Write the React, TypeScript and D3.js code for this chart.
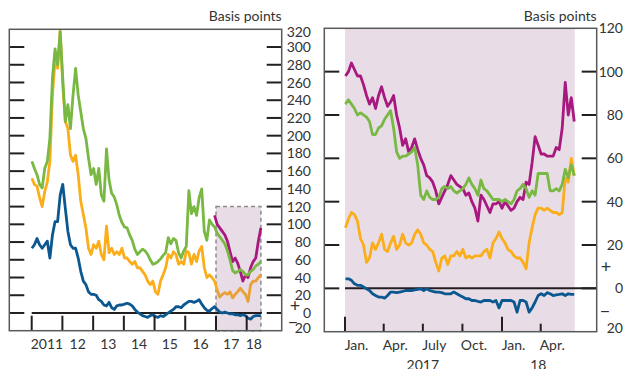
import * as d3 from "d3";

// Left panel: roughly monthly readings, Jan 2011 – Jun 2018 (basis points)
const longGreen = [
  171, 163, 156, 145, 141, 163, 171, 197, 265, 298,
  280, 317, 265, 216, 235, 208, 246, 276, 246, 227,
  208, 197, 175, 156, 163, 145, 163, 133, 126, 185,
  150, 135, 131, 122, 110, 102, 97, 96, 88, 82,
  72, 66, 69, 72, 70, 66, 60, 55, 56, 58,
  61, 65, 68, 85, 78, 84, 82, 68, 62, 70,
  75, 138, 112, 120, 110, 130, 140, 92, 82, 105,
  100, 97, 90, 86, 82, 78, 70, 60, 48, 45,
  47, 49, 47, 43, 43, 47, 49, 53, 55, 58
];
const longOrange = [
  152, 145, 143, 130, 120, 137, 148, 171, 246, 284,
  276, 319, 257, 216, 208, 178, 171, 178, 156, 126,
  111, 96, 73, 66, 77, 73, 81, 66, 60, 98,
  68, 73, 66, 69, 66, 73, 62, 62, 58, 55,
  58, 51, 51, 47, 43, 36, 32, 36, 24, 21,
  36, 43, 51, 66, 62, 69, 66, 55, 58, 55,
  70, 68, 55, 66, 58, 70, 75, 51, 40, 43,
  40, 36, 26, 18, 21, 23, 21, 24, 17, 21,
  24, 28, 24, 21, 13, 32, 36, 36, 40, 43
];
const longBlue = [
  73, 77, 84, 77, 73, 77, 81, 62, 88, 103,
  103, 133, 145, 118, 92, 77, 73, 73, 62, 47,
  36, 32, 24, 21, 21, 20, 15, 13, 9, 8,
  12, 6, 4, 8, 9, 9, 10, 11, 10, 8,
  4, 1, -1, -3, -4, -5, -3, -2, -4, -5,
  -3, -4, -2, 0, 2, 4, 7, 7, 6, 9,
  11, 13, 13, 12, 13, 15, 10, 6, 3, 2,
  5, 7, 4, 1, 0, 1, 0, -1, -1, -2,
  -2, -3, -2, -3, -6, -7, -4, -3, -3, -3
];
// purple starts late 2016 (index 71 of the monthly grid)
const longPurpleStart = 71;
const longPurple = [110, 100, 96, 92, 88, 81, 69, 58, 62, 56, 47, 36, 43, 40, 51, 58, 62, 81, 96];

// Right panel: weekly readings, Jan 2017 – Jun 2018
const shortPurple = [
  98, 100, 104, 101, 98, 98, 94, 89, 85, 88,
  83, 89, 93, 88, 84, 86, 89, 80, 74, 66,
  69, 63, 65, 69, 64, 60, 57, 52, 51, 49,
  45, 39, 42, 45, 48, 52, 50, 48, 47, 46,
  43, 44, 40, 37, 31, 43, 41, 38, 35, 39,
  39, 40, 37, 40, 38, 36, 37, 40, 42, 41,
  49, 48, 58, 70, 66, 62, 62, 61, 61, 61,
  65, 64, 74, 95, 80, 88, 77
];
const shortGreen = [
  85, 87, 85, 83, 80, 81, 80, 79, 77, 71,
  71, 74, 75, 78, 80, 82, 74, 63, 60, 61,
  61, 62, 63, 65, 57, 43, 41, 45, 42, 41,
  41, 42, 46, 47, 46, 47, 45, 44, 45, 46,
  48, 51, 48, 46, 43, 50, 46, 45, 43, 41,
  41, 41, 40, 41, 40, 39, 41, 45, 46, 48,
  46, 42, 45, 43, 53, 53, 53, 53, 45, 45,
  46, 45, 48, 55, 51, 57, 52
];
const shortOrange = [
  28, 32, 35, 34, 31, 23, 20, 12, 14, 21,
  18, 21, 25, 18, 17, 21, 24, 18, 20, 25,
  21, 20, 21, 25, 27, 25, 21, 20, 18, 17,
  12, 8, 14, 15, 11, 15, 15, 17, 15, 18,
  14, 15, 14, 15, 15, 15, 17, 18, 14, 21,
  23, 26, 23, 21, 18, 17, 15, 14, 14, 12,
  9, 21, 28, 34, 37, 37, 36, 37, 36, 35,
  35, 34, 35, 51, 49, 60, 52
];
const shortBlue = [
  4.4, 4.4, 3.7, 2.1, 1.4, 1.4, 0.6, -0.2, -1, -2.5,
  -3.3, -4, -4, -4.5, -3.3, -1.7, -1.7, -2, -1.7, -1.4,
  -1, -1, -1, -0.7, -0.5, -0.2, -1, -0.2, -1, -1.4,
  -1.7, -1.7, -2, -2.5, -2.5, -2.5, -1.7, -2.5, -3.3, -4,
  -4.8, -4.8, -5.6, -5.6, -6, -6.3, -5.6, -5.6, -5.6, -6.3,
  -5.6, -9, -5.6, -5.6, -5.6, -5.6, -6.3, -11, -5.6, -5.6,
  -6.3, -11, -9, -6.3, -3.3, -2.5, -3.3, -2, -2.5, -3.3,
  -3, -2.8, -2.5, -3.3, -2.5, -2.8, -2.8
];

const longTickValues = [0, 20, 40, 60, 80, 100, 120, 140, 160, 180, 200, 220, 240, 260, 280, 300];
const longLabelValues = [-20, 0, 20, 40, 60, 80, 100, 120, 140, 160, 180, 200, 220, 240, 260, 280, 300, 320];
const shortTickValues = [0, 20, 40, 60, 80, 100];
const shortLabelValues = [-20, 0, 20, 40, 60, 80, 100, 120];
const yearLabels = ["2011", "12", "13", "14", "15", "16", "17", "18"];
const quarterLabels = ["Jan.", "Apr.", "July", "Oct.", "Jan.", "Apr."];
const yearRowLabels = ["2017", "18"];

const GREEN = "#78b843";
const ORANGE = "#fbad1a";
const ORANGE_DIM = "#e9a036";
const PURPLE = "#a8197f";
const BLUE = "#0b5890";
const SHADE = "#e8dde7";
const INK = "#231f20";
const TEXT = "#333333";
const FRAME = "#58595b";

const seriesEnd = new Date(2018, 5, 19);
const longStart = new Date(2011, 0, 3);
const step = (seriesEnd.getTime() - longStart.getTime()) / (longGreen.length - 1);
const longDates = longGreen.map((_, i) => new Date(longStart.getTime() + i * step));
const shortDates = shortGreen.map((_, i) => d3.timeWeek.offset(new Date(2017, 0, 2), i));

type Pt = [Date, number];
const zip = (dates: Date[], vals: number[]): Pt[] => vals.map((v, i) => [dates[i], v]);

export default function App() {
  // left panel
  const L = { x0: 9.3, x1: 281.7, y0: 29.3, y1: 330.7 };
  const xL = d3.scaleTime().domain([new Date(2011, 0, 1), new Date(2018, 0, 1)]).range([31.7, 246.7]);
  const yL = d3.scaleLinear().domain([-20, 320]).range([L.y1, L.y0]);
  const lineL = d3.line<Pt>().x((d) => xL(d[0])).y((d) => yL(d[1]));

  // right panel
  const R = { x0: 324.3, x1: 596.7, y0: 28.3, y1: 331.7 };
  const xR = d3.scaleTime().domain([new Date(2017, 0, 1), new Date(2018, 0, 1)]).range([345, 502]);
  const yR = d3.scaleLinear().domain([-20, 120]).range([R.y1, R.y0]);
  const lineR = d3.line<Pt>().x((d) => xR(d[0])).y((d) => yR(d[1]));

  const orangePts = zip(longDates, longOrange);
  const purplePts = zip(longDates.slice(longPurpleStart), longPurple);

  const years = d3.range(2011, 2019).map((y) => new Date(y, 0, 1));
  const quarters = [0, 3, 6, 9, 12, 15].map((m) => new Date(2017, m, 1));

  const lineStyle = { fill: "none", strokeWidth: 2.8, strokeLinejoin: "round" as const };
  const font = "Lato, 'Open Sans', sans-serif";

  const shadeL0 = xL(new Date(2017, 0, 1));
  const shadeL1 = xL(seriesEnd);

  return (
    <svg
      width={624}
      height={369}
      style={{ position: "absolute", left: 0, top: 0, background: "#fff" }}
      fontFamily={font}
      fontSize={14}
    >
      {/* ---------- left panel ---------- */}
      <rect x={shadeL0} y={yL(120)} width={shadeL1 - shadeL0} height={L.y1 - yL(120)} fill={SHADE}
        stroke="#8c8c8c" strokeWidth={1.5} strokeDasharray="4 3" />
      <line x1={xL(years[0])} x2={shadeL1 + 1} y1={yL(0)} y2={yL(0)} stroke={INK} strokeWidth={2} />
      <path d={lineL(orangePts.slice(0, 73)) ?? ""} stroke={ORANGE} {...lineStyle} />
      <path d={lineL(orangePts.slice(72)) ?? ""} stroke={ORANGE_DIM} {...lineStyle} />
      <path d={lineL(purplePts) ?? ""} stroke={PURPLE} {...lineStyle} />
      <path d={lineL(zip(longDates, longGreen)) ?? ""} stroke={GREEN} {...lineStyle} />
      <path d={lineL(zip(longDates, longBlue)) ?? ""} stroke={BLUE} {...lineStyle} />

      {longTickValues.map((v) => (
        <g key={v}>
          <line x1={L.x0} x2={L.x0 + 15} y1={yL(v)} y2={yL(v)} stroke={INK} strokeWidth={2} />
          <line x1={L.x1 - 15} x2={L.x1} y1={yL(v)} y2={yL(v)} stroke={INK} strokeWidth={2} />
        </g>
      ))}
      {years.map((d, i) => (
        <line key={i} x1={xL(d)} x2={xL(d)} y1={L.y1} y2={L.y1 - 15} stroke={INK} strokeWidth={2} />
      ))}
      <rect x={L.x0} y={L.y0} width={L.x1 - L.x0} height={L.y1 - L.y0} fill="none" stroke={FRAME} strokeWidth={1.5} />

      {longLabelValues.map((v) => (
        <text key={v} x={311} y={Math.min(Math.max(yL(v), 31.7), 328.3)} dy="0.36em" textAnchor="end" fill={TEXT}>
          {Math.abs(v)}
        </text>
      ))}
      <text x={295} y={yL(8)} dy="0.36em" textAnchor="middle" fill={TEXT} fontSize={18}>+</text>
      <text x={293} y={yL(-10)} dy="0.36em" textAnchor="middle" fill={TEXT} fontSize={18}>−</text>
      {yearLabels.map((t, i) => {
        const cx = i < yearLabels.length - 1
          ? xL(new Date(2011 + i, 6, 1))
          : (xL(years[i]) + xL(seriesEnd)) / 2;
        return (
          <text key={t} x={cx} y={349} textAnchor="middle" fill={TEXT}>{t}</text>
        );
      })}
      <text x={L.x1} y={21} textAnchor="end" fill={TEXT}>Basis points</text>

      {/* ---------- right panel ---------- */}
      <rect x={xR(new Date(2017, 0, 1))} y={R.y0} width={xR(seriesEnd) - xR(new Date(2017, 0, 1))}
        height={R.y1 - R.y0} fill={SHADE} />
      <line x1={xR(new Date(2017, 0, 1))} x2={R.x1} y1={yR(0)} y2={yR(0)} stroke={INK} strokeWidth={2} />
      <path d={lineR(zip(shortDates, shortOrange)) ?? ""} stroke={ORANGE} {...lineStyle} />
      <path d={lineR(zip(shortDates, shortPurple)) ?? ""} stroke={PURPLE} {...lineStyle} />
      <path d={lineR(zip(shortDates, shortGreen)) ?? ""} stroke={GREEN} {...lineStyle} />
      <path d={lineR(zip(shortDates, shortBlue)) ?? ""} stroke={BLUE} {...lineStyle} />

      {shortTickValues.map((v) => (
        <g key={v}>
          <line x1={R.x0} x2={R.x0 + 15} y1={yR(v)} y2={yR(v)} stroke={INK} strokeWidth={2} />
          <line x1={R.x1 - 15} x2={R.x1} y1={yR(v)} y2={yR(v)} stroke={INK} strokeWidth={2} />
        </g>
      ))}
      {quarters.map((d, i) => (
        <line key={i} x1={xR(d)} x2={xR(d)} y1={R.y1} y2={R.y1 - (d.getMonth() === 0 ? 15 : 8)}
          stroke={INK} strokeWidth={2} />
      ))}
      <rect x={R.x0} y={R.y0} width={R.x1 - R.x0} height={R.y1 - R.y0} fill="none" stroke={FRAME} strokeWidth={1.5} />

      {shortLabelValues.map((v) => (
        <text key={v} x={623} y={Math.min(yR(v), 328.3)} dy="0.36em" textAnchor="end" fill={TEXT}>
          {Math.abs(v)}
        </text>
      ))}
      <text x={606} y={yR(10)} dy="0.36em" textAnchor="middle" fill={TEXT} fontSize={18}>+</text>
      <text x={605} y={yR(-10)} dy="0.36em" textAnchor="middle" fill={TEXT} fontSize={18}>−</text>
      {quarterLabels.map((t, i) => (
        <text key={i} x={xR(quarters[i]) + 11.5} y={349.5} textAnchor="middle" fill={TEXT}>{t}</text>
      ))}
      <text x={xR(new Date(2017, 6, 1))} y={370} textAnchor="middle" fill={TEXT}>{yearRowLabels[0]}</text>
      <text x={(xR(new Date(2018, 0, 1)) + xR(seriesEnd)) / 2} y={370} textAnchor="middle" fill={TEXT}>
        {yearRowLabels[1]}
      </text>
      <text x={R.x1} y={21} textAnchor="end" fill={TEXT}>Basis points</text>
    </svg>
  );
}
